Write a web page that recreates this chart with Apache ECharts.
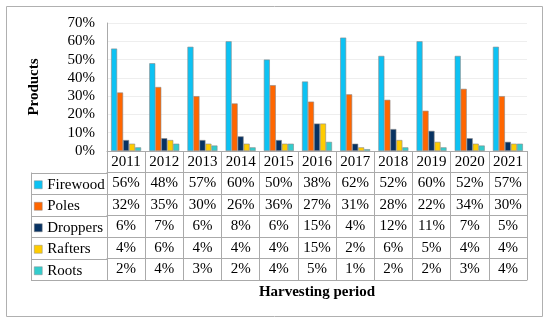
<!DOCTYPE html>
<html><head><meta charset="utf-8">
<script src="https://cdn.jsdelivr.net/npm/echarts@6/dist/echarts.min.js"></script>
<style>html,body{margin:0;padding:0;background:#fff}#c{width:550px;height:325px}</style>
</head><body><div id="c"></div>
<script>
const years = ['2011','2012','2013','2014','2015','2016','2017','2018','2019','2020','2021'];
const seriesNames = ['Firewood','Poles','Droppers','Rafters','Roots'];
const firewood = [56,48,57,60,50,38,62,52,60,52,57];
const poles = [32,35,30,26,36,27,31,28,22,34,30];
const droppers = [6,7,6,8,6,15,4,12,11,7,5];
const rafters = [4,6,4,4,4,15,2,6,5,4,4];
const roots = [2,4,3,2,4,5,1,2,2,3,4];
const yTicks = [0,10,20,30,40,50,60,70];
const colors = ['#0DC2F3','#FF6600','#073262','#FFCC00','#33CCCC'];
const rows = [firewood, poles, droppers, rafters, roots];

const FONT = 'Liberation Serif';
const rowH = 21.5;
const gridLeft = 107, gridRight = 527, axisY = 151, tableLeft = 31;
const lineColor = '#aaaaaa';

const chart = echarts.init(document.getElementById('c'));

const xAxes = [{
  type: 'category', data: years, position: 'bottom', offset: 0,
  axisLine: {lineStyle: {color: lineColor, width: 1}},
  axisTick: {show: true, interval: 0, length: rowH * 6, lineStyle: {color: lineColor}},
  axisLabel: {interval: 0, margin: 0, fontFamily: FONT, fontSize: 15, color: '#000', lineHeight: rowH, verticalAlign: 'top'}
}];
rows.forEach((r, k) => {
  xAxes.push({
    type: 'category', data: years, position: 'bottom', offset: rowH * (k + 1),
    axisLine: {lineStyle: {color: lineColor, width: 1}},
    axisTick: {show: false},
    axisLabel: {interval: 0, margin: 0, fontFamily: FONT, fontSize: 15, color: '#000', lineHeight: rowH, verticalAlign: 'top',
      formatter: (v, i) => r[i] + '%'}
  });
});
xAxes.push({
  type: 'category', data: years, position: 'bottom', offset: rowH * 6,
  axisLine: {lineStyle: {color: lineColor, width: 1}},
  axisTick: {show: false}, axisLabel: {show: false},
  name: 'Harvesting period', nameLocation: 'middle', nameGap: 5,
  nameTextStyle: {fontFamily: FONT, fontSize: 15, fontWeight: 'bold', color: '#000', verticalAlign: 'top'}
});

const graphics = [
  {type: 'rect', shape: {x: 6.5, y: 6.5, width: 536, height: 310}, style: {fill: 'none', stroke: '#b0b0b0', lineWidth: 1}, silent: true, z: -1}
];
for (let k = 1; k <= 6; k++) {
  const y = Math.round(axisY + rowH * k) + 0.5;
  graphics.push({type: 'line', shape: {x1: tableLeft, y1: y, x2: gridLeft, y2: y}, style: {stroke: lineColor, lineWidth: 1}});
}
graphics.push({type: 'line', shape: {x1: tableLeft + 0.5, y1: axisY + rowH, x2: tableLeft + 0.5, y2: axisY + rowH * 6}, style: {stroke: lineColor, lineWidth: 1}});

chart.setOption({
  animation: false,
  color: colors,
  grid: {left: gridLeft, right: 550 - gridRight, top: 23, bottom: 325 - axisY, containLabel: false},
  legend: {
    orient: 'vertical', left: 34, top: axisY + rowH + 1.5, itemGap: 0, padding: 0,
    itemWidth: 8, itemHeight: 8, icon: 'rect', data: seriesNames,
    textStyle: {fontFamily: FONT, fontSize: 15, color: '#000', lineHeight: rowH},
    itemStyle: {borderColor: '#888', borderWidth: 0.5}
  },
  xAxis: xAxes,
  yAxis: {
    type: 'value', min: yTicks[0], max: yTicks[yTicks.length - 1], interval: 10,
    axisLine: {show: true, lineStyle: {color: lineColor}},
    axisTick: {show: false},
    splitLine: {lineStyle: {color: '#eeeeee'}},
    axisLabel: {formatter: '{value}%', fontFamily: FONT, fontSize: 15, color: '#000', margin: 12},
    name: 'Products', nameLocation: 'middle', nameGap: 65, nameRotate: 90,
    nameTextStyle: {fontFamily: FONT, fontSize: 15, fontWeight: 'bold', color: '#000'}
  },
  series: rows.map((r, k) => ({
    name: seriesNames[k], type: 'bar', data: r, xAxisIndex: 0,
    barWidth: 6, barGap: '0%', barCategoryGap: '21%',
    itemStyle: {color: colors[k], borderColor: '#8a8a8a', borderWidth: 0.6}
  })),
  graphic: graphics
});
</script></body></html>
